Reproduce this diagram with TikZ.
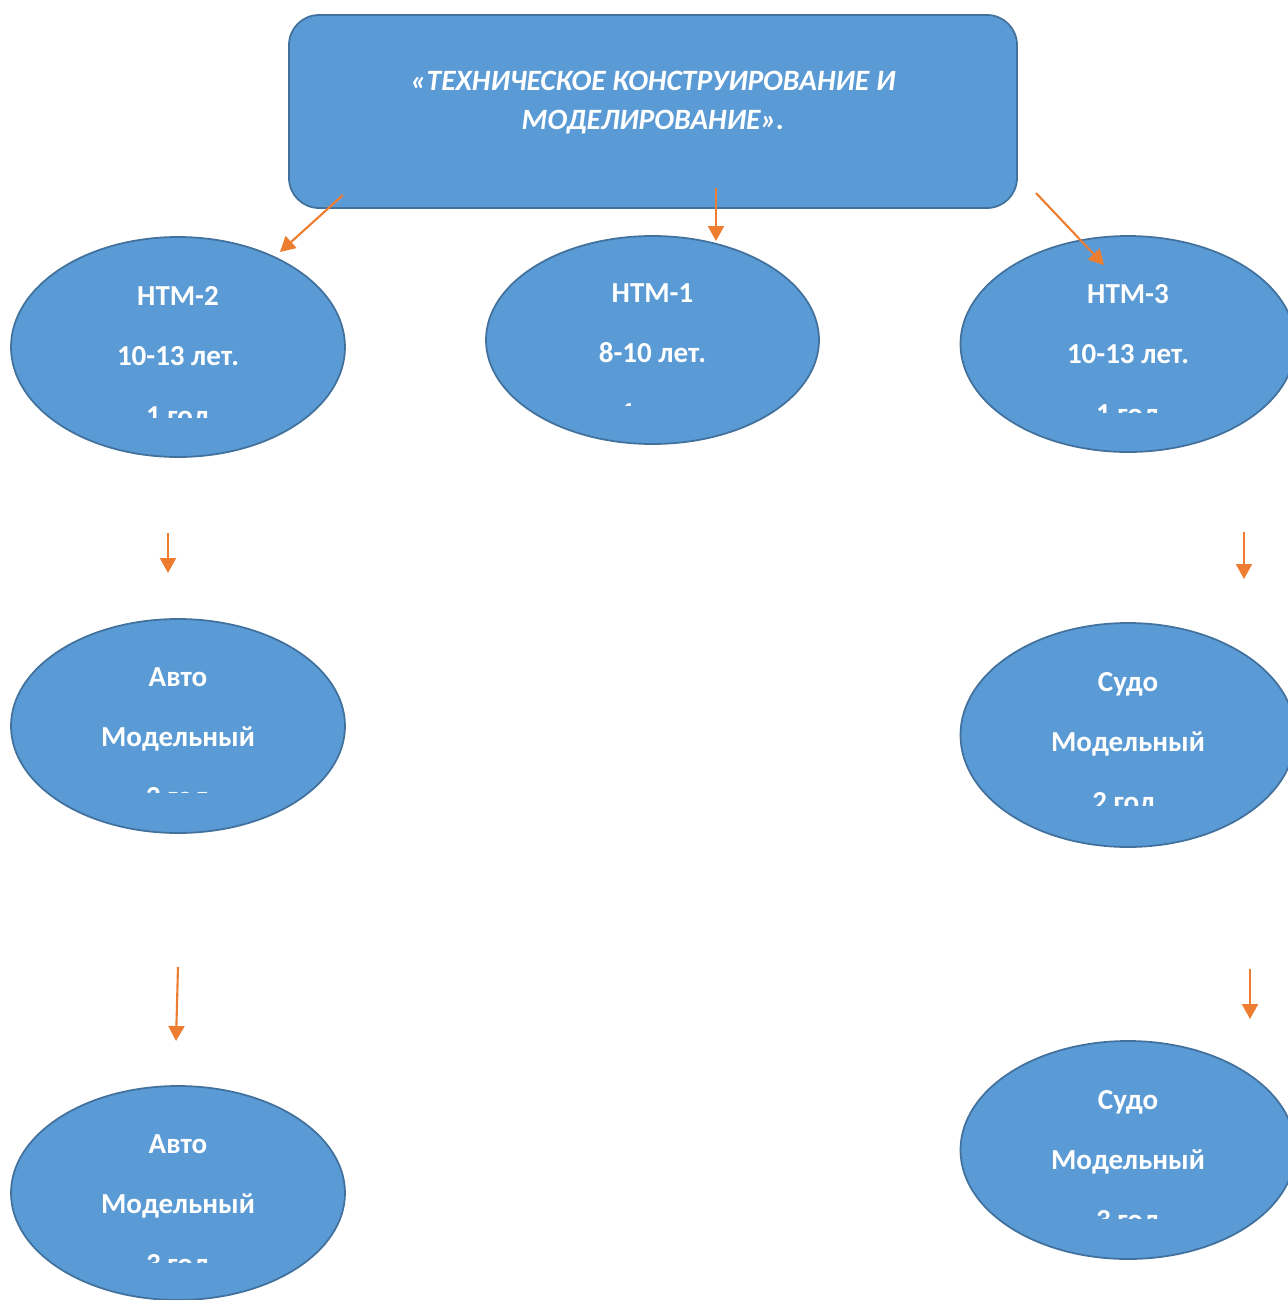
\documentclass[tikz,border=0pt]{standalone}
\usepackage{fontspec}
\setmainfont{Carlito}
\usetikzlibrary{arrows.meta,shapes.geometric}
\definecolor{ovalfill}{HTML}{5B9BD5}
\definecolor{ovaledge}{HTML}{41719C}
\definecolor{linkorange}{HTML}{ED7D31}
\tikzset{
    oval/.style args={#1/#2}{ellipse, draw=ovaledge, fill=ovalfill, line width=1pt,
        minimum width=#1cm, minimum height=#2cm, inner sep=0pt},
    ovaltext/.style={text=white, align=center, anchor=base, inner sep=0pt,
        font=\fontsize{16.5}{34}\selectfont\bfseries},
    link/.style={draw=linkorange, line width=1.2pt, -{Triangle[length=3mm,width=3.2mm]}}
}

\begin{document}
\begin{tikzpicture}
\def\ls{1.195}    % line spacing of oval text (cm)
\useasboundingbox (0,0) rectangle (25.76,-26);
% title box
\node[draw=ovaledge, fill=ovalfill, line width=1pt, rounded corners=0.6cm,
      minimum width=14.56cm, minimum height=3.86cm, inner sep=0pt] (title) at (13.06,-2.23) {};
\node[text=white, align=center, anchor=base, inner sep=0pt,
      font=\fontsize{16.8}{22.2}\selectfont\bfseries\itshape] (title-txt) at (13.06,-2.59)
      {«ТЕХНИЧЕСКОЕ КОНСТРУИРОВАНИЕ И\\МОДЕЛИРОВАНИЕ».};
% ovals: name/x/y/width/height/first baseline/cut/text
\foreach \nm/\x/\y/\w/\h/\base/\cut/\txt in {%
    ntm2/3.56/-6.94/6.68/4.40/-6.11/-8.34/{НТМ-2\\10-13 лет.\\1 год},
    ntm1/13.05/-6.80/6.66/4.16/-6.05/-8.11/{НТМ-1\\8-10 лет.\\1 год},
    ntm3/22.56/-6.88/6.70/4.32/-6.07/-8.24/{НТМ-3\\10-13 лет.\\1 год},
    avto2/3.56/-14.52/6.68/4.28/-13.73/-15.84/{Авто\\Модельный\\2 год},
    sudo2/22.56/-14.70/6.70/4.48/-13.83/-16.10/{Судо\\Модельный\\2 год.},
    avto3/3.56/-23.86/6.68/4.28/-23.07/-25.24/{Авто\\Модельный\\3 год},
    sudo3/22.56/-23.00/6.70/4.36/-22.19/-24.36/{Судо\\Модельный\\3 год}} {%
\node[oval=\w/\h] (\nm) at (\x,\y) {};
\begin{scope}
\clip (\x-4,\y+3) rectangle (\x+4,\cut);
\node[ovaltext] (\nm-txt) at (\x,\base-2*\ls) {\txt};
\end{scope}
};
% arrows (free standing)
\coordinate (s1) at (6.86,-3.90);   \coordinate (e1) at (5.60,-5.04);
\coordinate (s2) at (14.32,-3.76);  \coordinate (e2) at (14.32,-4.82);
\coordinate (s3) at (20.72,-3.86);  \coordinate (e3) at (22.08,-5.30);
\coordinate (s4) at (3.36,-10.66);  \coordinate (e4) at (3.36,-11.46);
\coordinate (s5) at (24.88,-10.64); \coordinate (e5) at (24.88,-11.58);
\coordinate (s6) at (3.56,-19.34);  \coordinate (e6) at (3.52,-20.82);
\coordinate (s7) at (25.00,-19.38); \coordinate (e7) at (25.00,-20.38);
\foreach \i in {1,...,7} {%
\draw[link] (s\i) -- (e\i);
};
\end{tikzpicture}
\end{document}
